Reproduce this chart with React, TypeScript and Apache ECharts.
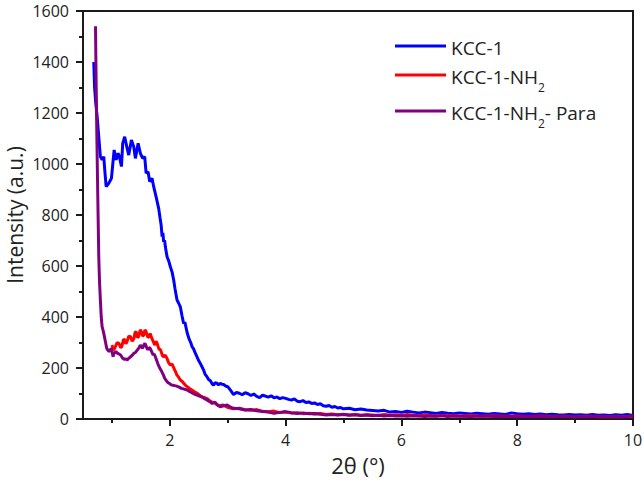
import React, { useEffect, useRef } from "react";
import * as echarts from "echarts";

const seriesNames = ["KCC-1", "KCC-1-NH2", "KCC-1-NH2- Para"];
const seriesColors = ["#0000ff", "#ff0000", "#800080"];

const xTickValues = [2, 4, 6, 8, 10];
const xMinorTickValues = [1, 3, 5, 7, 9];

// KCC-1 (blue)
const kcc1X = [
  0.686, 0.7, 0.72, 0.745, 0.772, 0.8, 0.83, 0.859, 0.876, 0.9, 0.945, 0.991, 1.038, 1.072, 1.107, 1.129, 1.164, 1.186,
  1.22, 1.262, 1.29, 1.336, 1.376, 1.405, 1.452, 1.491, 1.531, 1.566, 1.59, 1.624, 1.652, 1.693, 1.721, 1.762, 1.807,
  1.83, 1.85, 1.866, 1.88, 1.893, 1.91, 1.922, 1.952, 1.98, 2.009, 2.04, 2.066, 2.09, 2.124, 2.15, 2.181, 2.21, 2.238,
  2.26, 2.297, 2.33, 2.36, 2.383, 2.41, 2.44, 2.469, 2.5, 2.526, 2.555, 2.583, 2.61, 2.641, 2.669, 2.7, 2.73, 2.755,
  2.78, 2.814, 2.84, 2.871, 2.9, 2.928, 2.96, 2.986,
  3.0, 3.05, 3.1, 3.15, 3.2, 3.25, 3.3, 3.35, 3.4, 3.45, 3.5, 3.55, 3.6, 3.65, 3.7, 3.75, 3.8, 3.85, 3.9, 3.95,
  4.0, 4.05, 4.1, 4.15, 4.2, 4.25, 4.3, 4.35, 4.4, 4.45, 4.5, 4.55, 4.6, 4.65, 4.7, 4.75, 4.8, 4.85, 4.9, 4.95,
  5.0, 5.1, 5.2, 5.3, 5.4, 5.5, 5.6, 5.7, 5.8, 5.9, 6.0, 6.1, 6.2, 6.3, 6.4, 6.5, 6.6, 6.7, 6.8, 6.9,
  7.0, 7.1, 7.2, 7.3, 7.4, 7.5, 7.6, 7.7, 7.8, 7.9, 8.0, 8.1, 8.2, 8.3, 8.4, 8.5, 8.6, 8.7, 8.8, 8.9,
  9.0, 9.1, 9.2, 9.3, 9.4, 9.5, 9.6, 9.7, 9.8, 9.9, 10.0,
];
const kcc1Y = [
  1400, 1300, 1240, 1185, 1107, 1029, 1016, 1029, 976, 911, 924, 944, 1055, 1016, 1042, 1029, 990, 1081,
  1107, 1062, 1035, 1094, 1068, 1022, 1081, 1042, 1022, 1029, 964, 970, 931, 944, 911, 872, 826,
  790, 760, 715, 730, 695, 700, 676, 636, 620, 597, 575, 545, 510, 467, 455, 440, 405, 375,
  380, 340, 315, 300, 284, 275, 258, 244, 228, 218, 205, 192, 175, 166, 155, 150, 138, 133,
  142, 140, 134, 140, 136, 135, 130, 127,
  127, 112, 96, 104, 101, 95, 103, 99, 92, 98, 89, 84, 93, 90, 86, 91, 83, 86, 80, 84,
  81, 77, 74, 79, 70, 68, 72, 65, 67, 61, 63, 57, 60, 52, 50, 53, 46, 49, 43, 45,
  40, 42, 36, 39, 35, 33, 31, 34, 27, 29, 26, 30, 27, 24, 27, 25, 22, 26, 23, 21,
  24, 22, 20, 23, 21, 19, 22, 20, 18, 24, 21, 19, 21, 18, 20, 17, 19, 17, 16, 18,
  16, 17, 15, 18, 15, 16, 14, 17, 15, 18, 14,
];

// KCC-1-NH2 (red)
const nh2X = [
  1.0, 1.03, 1.06, 1.09, 1.12, 1.15, 1.17, 1.2, 1.22, 1.24, 1.26, 1.29, 1.32, 1.35, 1.38, 1.4, 1.42, 1.44, 1.46, 1.49,
  1.51, 1.53, 1.55, 1.57, 1.59, 1.62, 1.64, 1.66, 1.69, 1.72, 1.74, 1.76, 1.78, 1.81, 1.84, 1.87, 1.89, 1.92, 1.95, 1.98,
  2.01, 2.04, 2.07, 2.1, 2.12, 2.15, 2.18, 2.21, 2.24, 2.27, 2.3, 2.34, 2.38, 2.42, 2.47, 2.51, 2.55, 2.6, 2.64, 2.69,
  2.73, 2.78, 2.85, 2.92,
  3.0, 3.1, 3.2, 3.3, 3.4, 3.5, 3.6, 3.7, 3.8, 3.9, 4.0, 4.1, 4.2, 4.3, 4.4, 4.5, 4.6, 4.7, 4.8, 4.9,
  5.0, 5.1, 5.2, 5.3, 5.4, 5.5, 5.6, 5.7, 5.8, 5.9, 6.0, 6.1, 6.2, 6.3, 6.4, 6.5, 6.6, 6.7, 6.8, 6.9,
  7.0, 7.2, 7.4, 7.6, 7.8, 8.0, 8.2, 8.4, 8.6, 8.8, 9.0, 9.2, 9.4, 9.6, 9.8, 10.0,
];
const nh2Y = [
  290, 270, 284, 300, 297, 280, 284, 312, 310, 295, 303, 325, 323, 305, 316, 340, 342, 320, 323, 350,
  342, 325, 329, 350, 342, 320, 323, 335, 316, 300, 290, 305, 297, 275, 271, 250, 244, 250, 238, 220,
  212, 215, 199, 185, 173, 165, 153, 148, 140, 132, 127, 120, 114, 108, 101, 94, 87, 84, 80, 72,
  66, 62, 52, 55,
  45, 40, 42, 36, 34, 37, 30, 28, 31, 25, 27, 23, 25, 21, 23, 20, 22, 18, 20, 17,
  19, 16, 18, 15, 17, 16, 14, 18, 15, 17, 14, 18, 15, 13, 16, 14, 12, 15, 13, 14,
  12, 14, 11, 13, 11, 12, 10, 12, 10, 11, 9, 11, 9, 10, 9, 11,
];

// KCC-1-NH2- Para (purple)
const paraX = [
  0.716, 0.728, 0.74, 0.75, 0.762, 0.772, 0.785, 0.8, 0.815, 0.83, 0.85, 0.87, 0.89, 0.91, 0.93, 0.95, 0.97, 0.99, 1.0, 1.02,
  1.035, 1.045, 1.07, 1.09, 1.12, 1.15, 1.18, 1.21, 1.24, 1.26, 1.29, 1.32, 1.35, 1.38, 1.41, 1.44, 1.47, 1.49, 1.51, 1.53,
  1.55, 1.57, 1.6, 1.62, 1.64, 1.66, 1.69, 1.71, 1.73, 1.75, 1.78, 1.8, 1.83, 1.86, 1.89, 1.91, 1.94, 1.97, 2.0, 2.03,
  2.08, 2.12, 2.16, 2.2, 2.25, 2.3, 2.34, 2.38, 2.42, 2.47, 2.51, 2.55, 2.6, 2.64, 2.69, 2.73, 2.78, 2.82, 2.87, 2.93,
  2.99, 3.05, 3.1,
  3.2, 3.3, 3.4, 3.5, 3.6, 3.7, 3.8, 3.9, 4.0, 4.1, 4.2, 4.3, 4.4, 4.5, 4.6, 4.7, 4.8, 4.9,
  5.0, 5.1, 5.2, 5.3, 5.4, 5.5, 5.6, 5.7, 5.8, 5.9, 6.0, 6.1, 6.2, 6.3, 6.4, 6.5, 6.6, 6.7, 6.8, 6.9,
  7.0, 7.2, 7.4, 7.6, 7.8, 8.0, 8.2, 8.4, 8.6, 8.8, 9.0, 9.2, 9.4, 9.6, 9.8, 10.0,
];
const paraY = [
  1540, 1300, 1100, 950, 780, 640, 540, 467, 400, 362, 345, 323, 300, 277, 270, 264, 270, 277, 265, 244,
  262, 258, 265, 258, 255, 251, 240, 234, 236, 231, 238, 244, 250, 258, 262, 271, 280, 290, 282, 277,
  290, 297, 280, 271, 280, 277, 262, 251, 255, 244, 225, 212, 198, 186, 172, 160, 150, 142, 138, 133,
  131, 129, 125, 120, 117, 114, 108, 103, 98, 94, 90, 87, 80, 75, 68, 61, 66, 55, 48, 52,
  55, 46, 42,
  40, 35, 37, 32, 29, 27, 22, 26, 29, 25, 22, 24, 21, 22, 19, 16, 18, 16,
  18, 15, 17, 14, 16, 13, 15, 12, 14, 12, 13, 11, 13, 12, 10, 12, 11, 13, 10, 12,
  11, 10, 12, 10, 11, 9, 11, 10, 9, 11, 10, 9, 11, 10, 9, 12,
];

const zip = (xs: number[], ys: number[]) => xs.map((x, i) => [x, ys[i]]);

const FONT = "Open Sans";
const AXIS_COLOR = "#1a1a1a";
const TEXT_COLOR = "#222";

export default function App() {
  const ref = useRef<HTMLDivElement>(null);
  useEffect(() => {
    if (!ref.current) return;
    const chart = echarts.init(ref.current, undefined, { renderer: "svg" });
    const datasets = [zip(kcc1X, kcc1Y), zip(nh2X, nh2Y), zip(paraX, paraY)];
    chart.setOption({
      animation: false,
      backgroundColor: "#ffffff",
      textStyle: { fontFamily: FONT },
      grid: {
        left: 83,
        right: 11,
        top: 11,
        bottom: 64,
        outerBoundsMode: "none",
        containLabel: false,
        show: true,
        borderColor: AXIS_COLOR,
        borderWidth: 2,
        backgroundColor: "transparent",
      },
      legend: {
        orient: "vertical",
        left: 390,
        top: 33,
        itemWidth: 51,
        itemHeight: 14,
        itemGap: 10,
        itemTextGap: 5,
        data: seriesNames.map((n, i) => ({
          name: n,
          icon: "path://M0,6 L51,6 L51,9 L0,9 Z",
          itemStyle: { color: seriesColors[i] },
        })),
        formatter: (name: string) => {
          if (name === "KCC-1") return "{a|KCC-1}";
          if (name === "KCC-1-NH2") return "{a|KCC-1-NH}{sub|2}";
          return "{a|KCC-1-NH}{sub|2}{a|- Para}";
        },
        textStyle: {
          fontFamily: FONT,
          fontSize: 19,
          color: TEXT_COLOR,
          rich: {
            a: { fontFamily: FONT, fontSize: 19, color: TEXT_COLOR, lineHeight: 22, verticalAlign: "bottom" },
            sub: {
              fontFamily: FONT,
              fontSize: 12,
              color: TEXT_COLOR,
              lineHeight: 22,
              verticalAlign: "bottom",
              padding: [0, 0, -7, 0],
            },
          },
        },
      },
      xAxis: [
        {
          type: "value",
          min: 0.5,
          max: 10,
          position: "bottom",
          name: "2\u03b8 (\u00b0)",
          nameLocation: "middle",
          nameGap: 35,
          nameTextStyle: { fontFamily: FONT, fontSize: 22, color: TEXT_COLOR },
          axisLine: { show: true, onZero: false, lineStyle: { color: AXIS_COLOR, width: 2 } },
          axisTick: {
            show: true,
            length: 7,
            customValues: xTickValues,
            lineStyle: { color: AXIS_COLOR, width: 2 },
          },
          axisLabel: {
            show: true,
            customValues: xTickValues,
            margin: 13,
            fontFamily: FONT,
            fontSize: 16,
            color: TEXT_COLOR,
            formatter: (v: number) => String(v),
          },
          splitLine: { show: false },
        },
        {
          type: "value",
          min: 0.5,
          max: 10,
          position: "bottom",
          axisLine: { show: false },
          axisTick: {
            show: true,
            length: 4,
            customValues: xMinorTickValues,
            lineStyle: { color: AXIS_COLOR, width: 2 },
          },
          axisLabel: { show: false },
          splitLine: { show: false },
        },
      ],
      yAxis: {
        type: "value",
        min: 0,
        max: 1600,
        interval: 200,
        name: "Intensity (a.u.)",
        nameLocation: "middle",
        nameGap: 58,
        nameMoveOverlap: false,
        nameTextStyle: { fontFamily: FONT, fontSize: 21, color: TEXT_COLOR },
        axisLine: { show: true, onZero: false, lineStyle: { color: AXIS_COLOR, width: 2 } },
        axisTick: { show: true, length: 7, lineStyle: { color: AXIS_COLOR, width: 2 } },
        minorTick: { show: true, splitNumber: 2, length: 4, lineStyle: { color: AXIS_COLOR, width: 2 } },
        axisLabel: {
          margin: 14,
          fontFamily: FONT,
          fontSize: 16,
          color: TEXT_COLOR,
          formatter: (v: number) => String(v),
        },
        splitLine: { show: false },
        minorSplitLine: { show: false },
      },
      series: seriesNames.map((n, i) => ({
        name: n,
        type: "line",
        xAxisIndex: 0,
        data: datasets[i],
        showSymbol: false,
        symbol: "none",
        lineStyle: { color: seriesColors[i], width: 3 },
        itemStyle: { color: seriesColors[i] },
        z: 2 + i,
      })),
    });
    return () => chart.dispose();
  }, []);
  return <div ref={ref} style={{ width: 644, height: 483, position: "absolute", left: 0, top: 0 }} />;
}
